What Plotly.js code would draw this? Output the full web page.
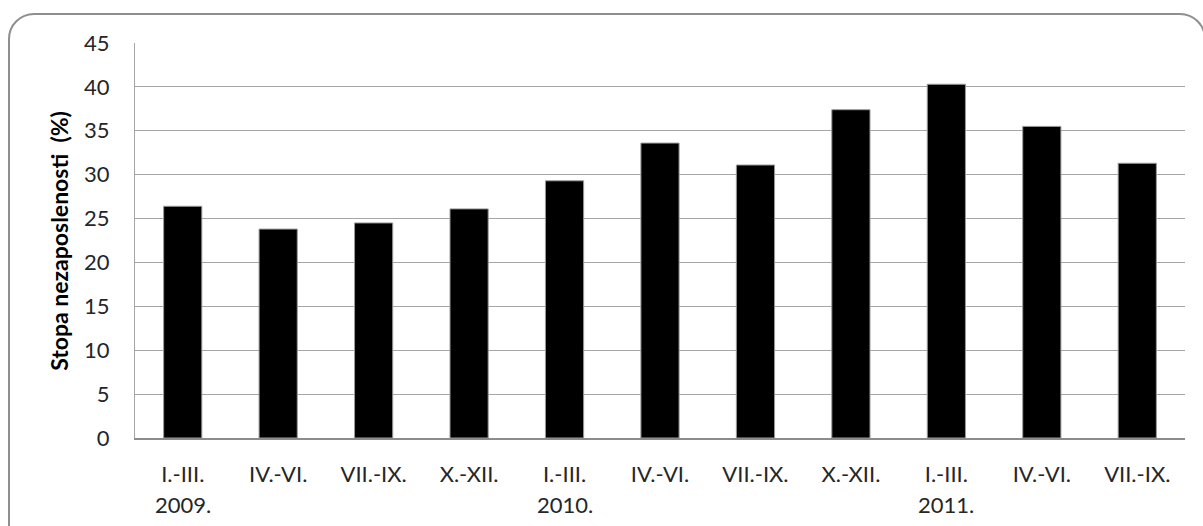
<!DOCTYPE html>
<html>
<head>
<meta charset="utf-8">
<script src="https://cdn.plot.ly/plotly-3.0.1.min.js"></script>
<style>
  html, body { margin: 0; padding: 0; background: #fff; }
  #wrap { position: relative; width: 1203px; height: 526px; overflow: hidden; }
  #chart { position: absolute; left: 0; top: 0; width: 1203px; height: 526px; }
  #frame { position: absolute; left: 8px; top: 13px; width: 1198px; height: 540px;
           border: 2px solid #8f8f8f; border-radius: 26px; box-sizing: border-box; pointer-events: none; }
</style>
</head>
<body>
<div id="wrap">
  <div id="chart"></div>
  <div id="frame"></div>
</div>
<script>
const quarters = ["I.-III.", "IV.-VI.", "VII.-IX.", "X.-XII.", "I.-III.", "IV.-VI.", "VII.-IX.", "X.-XII.", "I.-III.", "IV.-VI.", "VII.-IX."];
const years = ["2009.", "", "", "", "2010.", "", "", "", "2011.", "", ""];
const rates = [26.4, 23.8, 24.5, 26.1, 29.3, 33.6, 31.1, 37.4, 40.3, 35.5, 31.3];
const yTicks = [0, 5, 10, 15, 20, 25, 30, 35, 40, 45];
const yTitle = "Stopa nezaposlenosti  (%)";

const idx = quarters.map((q, i) => i);
const FONT = "Lato, 'Open Sans', sans-serif";

const trace = {
  type: "bar",
  x: idx,
  y: rates,
  width: 0.4,
  marker: { color: "#000000", line: { color: "#9a9a9a", width: 1 } },
  hoverinfo: "skip"
};

const annotations = [];
years.forEach((yr, i) => {
  if (yr) annotations.push({
    x: i, xref: "x", y: -0.168, yref: "paper", yanchor: "middle",
    text: yr, showarrow: false,
    font: { family: FONT, size: 22, color: "#262626" }
  });
});
annotations.push({
  x: -0.073, xref: "paper", y: 0.5, yref: "paper",
  text: "<b>" + yTitle + "</b>", textangle: -90, showarrow: false,
  xanchor: "center", yanchor: "middle",
  font: { family: FONT, size: 23, color: "#000" }
});

const layout = {
  width: 1203, height: 526,
  margin: { l: 135, r: 18, t: 43, b: 88, pad: 0 },
  paper_bgcolor: "#ffffff", plot_bgcolor: "#ffffff",
  showlegend: false,
  xaxis: {
    type: "linear",
    range: [-0.5, 10.5],
    tickmode: "array", tickvals: idx, ticktext: quarters,
    ticks: "", ticklabelstandoff: 16,
    showgrid: false, zeroline: false,
    showline: true, linecolor: "#8c8c8c", linewidth: 1.5,
    tickfont: { family: FONT, size: 22, color: "#262626" },
    fixedrange: true
  },
  yaxis: {
    range: [0, 45],
    tickmode: "array", tickvals: yTicks,
    ticks: "", ticklabelstandoff: 20,
    showgrid: true, gridcolor: "#a6a6a6", gridwidth: 1,
    zeroline: false,
    showline: true, linecolor: "#a6a6a6", linewidth: 1,
    tickfont: { family: FONT, size: 22, color: "#262626" },
    fixedrange: true
  },
  annotations: annotations
};

Plotly.newPlot("chart", [trace], layout, { displayModeBar: false, staticPlot: true });
</script>
</body>
</html>
